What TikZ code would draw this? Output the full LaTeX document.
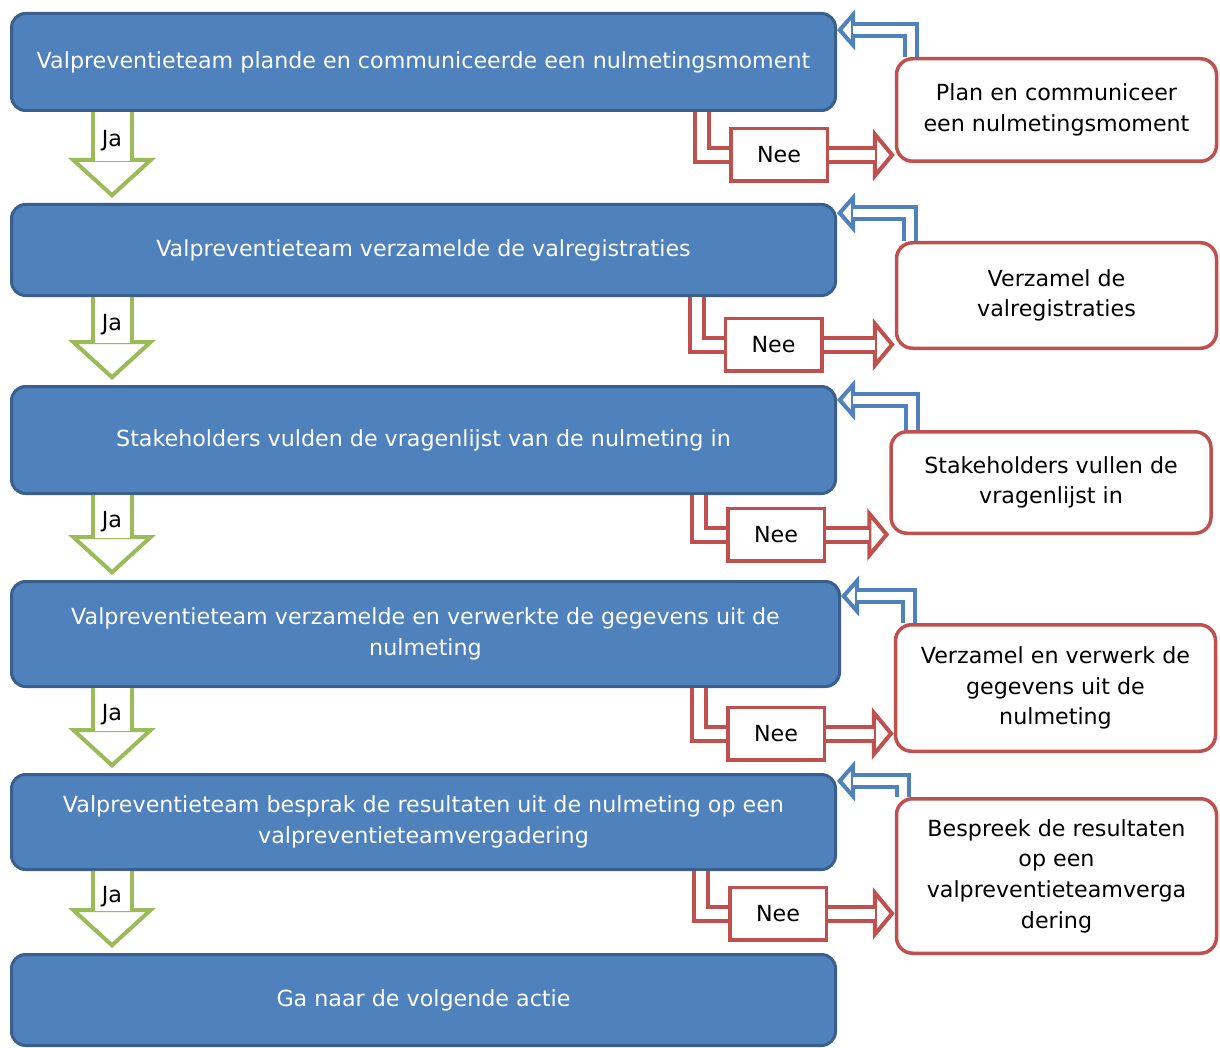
\documentclass[tikz,border=0pt]{standalone}
\usepackage{fontspec}
\setmainfont{DejaVu Sans}
\usepackage{xcolor}
\usetikzlibrary{arrows.meta,positioning,calc}

\definecolor{stepblue}{HTML}{4F81BD}
\definecolor{stepedge}{HTML}{3A5F8C}
\definecolor{neered}{HTML}{C0504D}
\definecolor{jagreen}{HTML}{9BBB59}

\begin{document}
\begin{tikzpicture}[x=0.5pt, y=-0.5pt, font=\fontsize{11.1}{15.3}\selectfont,
	stepbox/.style={draw=stepedge, fill=stepblue, line width=1.5pt, rounded corners=7pt, text=white, align=center, minimum width=412pt},
	fixbox/.style={draw=neered, fill=white, line width=1.75pt, rounded corners=8pt, align=center, minimum width=160pt},
	neebox/.style={draw=neered, fill=white, line width=1.75pt, minimum width=48.25pt, minimum height=26.25pt},
	jahead/.style={draw=jagreen, line width=2pt, shorten >=2.5pt, -{Triangle[length=20pt, width=43.5pt, fill=white]}},
	jaband/.style={draw=jagreen, line width=2pt, double=white, double distance=17.5pt, shorten >=21pt},
	neehead/.style={draw=neered, line width=2pt, -{Triangle[length=11pt, width=26pt, fill=white]}},
	neeband/.style={draw=neered, line width=2pt, double=white, double distance=5pt},
	fbhead/.style={draw=stepblue, line width=2pt, -{Triangle[length=9pt, width=20pt, fill=white]}},
	fbband/.style={draw=stepblue, line width=2pt, double=white, double distance=4pt, shorten >=8pt}]
	\useasboundingbox (0,0) rectangle (1220,1048);

	% steps
	\node[stepbox, minimum height=48.5pt] (s1) at (423.5, 62) {Valpreventieteam plande en communiceerde een nulmetingsmoment};
	\node[stepbox, minimum height=45.5pt] (s2) at (423.5, 250) {Valpreventieteam verzamelde de valregistraties};
	\node[stepbox, minimum height=53.5pt] (s3) at (423.5, 440) {Stakeholders vulden de vragenlijst van de nulmeting in};
	\node[stepbox, minimum height=52.5pt, minimum width=414pt] (s4) at (425.5, 634) {Valpreventieteam verzamelde en verwerkte de gegevens uit de\\nulmeting};
	\node[stepbox, minimum height=47.5pt] (s5) at (423.5, 822) {Valpreventieteam besprak de resultaten uit de nulmeting op een\\valpreventieteamvergadering};
	\node[stepbox, minimum height=45.5pt] (s6) at (423.5, 1000) {Ga naar de volgende actie};

	% what to do otherwise
	\node[fixbox, minimum height=51.25pt] (f1) at (1056.5, 110) {Plan en communiceer\\een nulmetingsmoment};
	\node[fixbox, minimum height=52.75pt] (f2) at (1056.5, 295.5) {Verzamel de\\valregistraties};
	\node[fixbox, minimum height=50.75pt] (f3) at (1051, 482.5) {Stakeholders vullen de\\vragenlijst in};
	\node[fixbox, minimum height=63.25pt] (f4) at (1055.5, 688) {Verzamel en verwerk de\\gegevens uit de\\nulmeting};
	\node[fixbox, minimum height=77.25pt] (f5) at (1056.5, 876) {Bespreek de resultaten\\op een\\valpreventieteamverga\\dering};

	\node[neebox] (n1) at (779, 155) {Nee};
	\node[neebox] (n2) at (773.5, 344.5) {Nee};
	\node[neebox] (n3) at (776, 534.5) {Nee};
	\node[neebox] (n4) at (776, 733.5) {Nee};
	\node[neebox] (n5) at (778, 913.5) {Nee};

	% bends
	\coordinate (ja) at (112, 0);
	\coordinate[left=13.5pt of n1.west] (r1);
	\coordinate[left=13.5pt of n2.west] (r2);
	\coordinate[left=13.5pt of n3.west] (r3);
	\coordinate[left=13.5pt of n4.west] (r4);
	\coordinate[left=13.5pt of n5.west] (r5);
	\coordinate (b1) at (911, 30);
	\coordinate (b2) at (910, 213);
	\coordinate (b3) at (912, 400);
	\coordinate (b4) at (909, 596);
	\coordinate (b5) at (903, 781);

	% ja: head first, band on top of it
	\draw[jahead] (s1.south -| ja) -- (s2.north -| ja);
	\draw[jaband] (s1.south -| ja) -- node[pos=0.31] {Ja} (s2.north -| ja);
	\draw[jahead] (s2.south -| ja) -- (s3.north -| ja);
	\draw[jaband] (s2.south -| ja) -- node[pos=0.31] {Ja} (s3.north -| ja);
	\draw[jahead] (s3.south -| ja) -- (s4.north -| ja);
	\draw[jaband] (s3.south -| ja) -- node[pos=0.31] {Ja} (s4.north -| ja);
	\draw[jahead] (s4.south -| ja) -- (s5.north -| ja);
	\draw[jaband] (s4.south -| ja) -- node[pos=0.31] {Ja} (s5.north -| ja);
	\draw[jahead] (s5.south -| ja) -- (s6.north -| ja);
	\draw[jaband] (s5.south -| ja) -- node[pos=0.31] {Ja} (s6.north -| ja);

	% nee
	\draw[neeband] (s1.south -| r1) |- (n1.west);
	\draw[neeband] (s2.south -| r2) |- (n2.west);
	\draw[neeband] (s3.south -| r3) |- (n3.west);
	\draw[neeband] (s4.south -| r4) |- (n4.west);
	\draw[neeband] (s5.south -| r5) |- (n5.west);
	\draw[neehead] (n1.east) -- (n1.east -| f1.west);
	\draw[neehead] (n2.east) -- (n2.east -| f2.west);
	\draw[neehead] (n3.east) -- (n3.east -| f3.west);
	\draw[neehead] (n4.east) -- (n4.east -| f4.west);
	\draw[neehead] (n5.east) -- (n5.east -| f5.west);
	\draw[neeband, shorten >=10pt] (n1.east) -- (n1.east -| f1.west);
	\draw[neeband, shorten >=10pt] (n2.east) -- (n2.east -| f2.west);
	\draw[neeband, shorten >=10pt] (n3.east) -- (n3.east -| f3.west);
	\draw[neeband, shorten >=10pt] (n4.east) -- (n4.east -| f4.west);
	\draw[neeband, shorten >=10pt] (n5.east) -- (n5.east -| f5.west);

	% back to the step
	\draw[fbhead] (b1 |- f1.north) |- (s1.east |- b1);
	\draw[fbband] (b1 |- f1.north) |- (s1.east |- b1);
	\draw[fbhead] (b2 |- f2.north) |- (s2.east |- b2);
	\draw[fbband] (b2 |- f2.north) |- (s2.east |- b2);
	\draw[fbhead] (b3 |- f3.north) |- (s3.east |- b3);
	\draw[fbband] (b3 |- f3.north) |- (s3.east |- b3);
	\draw[fbhead] (b4 |- f4.north) |- (s4.east |- b4);
	\draw[fbband] (b4 |- f4.north) |- (s4.east |- b4);
	\draw[fbhead] (b5 |- f5.north) |- (s5.east |- b5);
	\draw[fbband] (b5 |- f5.north) |- (s5.east |- b5);
\end{tikzpicture}
\end{document}
